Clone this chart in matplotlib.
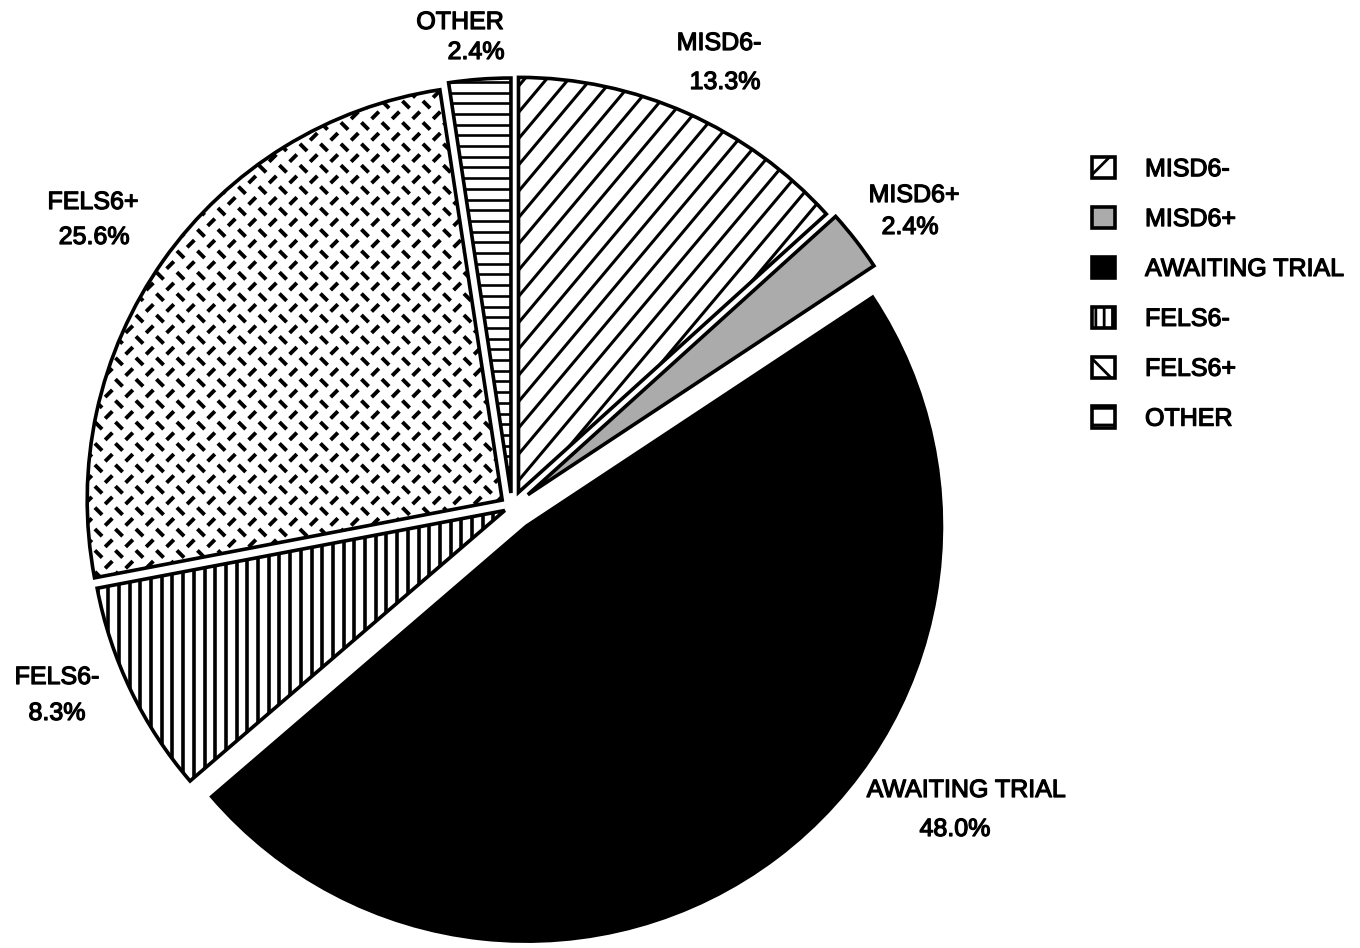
import numpy as np
import matplotlib.pyplot as plt
import matplotlib.patheffects as pe
from matplotlib.collections import LineCollection
from matplotlib.patches import Patch

plt.rcParams['font.family'] = ['Liberation Sans', 'DejaVu Sans']
plt.rcParams['hatch.linewidth'] = 2.0
plt.rcParams['hatch.color'] = 'black'

# data, clockwise from 12 o'clock
categories = ['MISD6-', 'MISD6+', 'AWAITING TRIAL', 'FELS6-', 'FELS6+', 'OTHER']
shares = [13.3, 2.4, 48.0, 8.3, 25.6, 2.4]
pct_labels = ['13.3%', '2.4%', '48.0%', '8.3%', '25.6%', '2.4%']

W, H = 1360, 948
fig = plt.figure(figsize=(W / 100, H / 100), dpi=100)
ax = fig.add_axes([0, 0, 1, 1])

R = 415
cx, cy = 512, H - 507
# explode is in data units here (axes units are pixels)
explode = [16, 20, 24, 8, 12, 14]
faces = ['white', '#ababab', 'black', 'white', 'white', 'white']

wedges, _ = ax.pie(shares, startangle=90, counterclock=False, radius=R,
                   center=(cx, cy), explode=explode, colors=faces,
                   wedgeprops=dict(edgecolor='black', linewidth=2.6))

ax.set_xlim(0, W)
ax.set_ylim(0, H)
ax.axis('off')


def line_hatch(wedge, angle, spacing, lw):
    a = np.deg2rad(angle)
    u = np.array([np.cos(a), np.sin(a)])
    n = np.array([-np.sin(a), np.cos(a)])
    L = R + 80
    segs = []
    for k in np.arange(-L, L, spacing):
        p = np.array([cx, cy]) + n * k
        segs.append([p - u * L, p + u * L])
    lc = LineCollection(segs, colors='black', linewidths=lw, zorder=3)
    ax.add_collection(lc)
    lc.set_clip_path(wedge)


def dash_hatch(wedge, dx, dy, half, lw):
    segs = []
    x0, x1 = cx - R - 60, cx + R + 60
    y0, y1 = cy - R - 60, cy + R + 60
    for i, y in enumerate(np.arange(y0, y1, dy)):
        if i % 2 == 0:
            for x in np.arange(x0, x1, dx):
                segs.append([(x - half, y + half), (x + half, y - half)])
        else:
            for x in np.arange(x0 + dx / 2, x1, dx):
                segs.append([(x - half, y - half), (x + half, y + half)])
    lc = LineCollection(segs, colors='black', linewidths=lw, zorder=3,
                        capstyle='butt')
    ax.add_collection(lc)
    lc.set_clip_path(wedge)


line_hatch(wedges[0], 50, 16.9, 2.2)          # MISD6-
line_hatch(wedges[3], 90, 10.7, 2.6)          # FELS6-
dash_hatch(wedges[4], 20.5, 10.7, 3.6, 2.8)   # FELS6+
line_hatch(wedges[5], 0, 10.7, 1.9)           # OTHER

bold_ish = [pe.withStroke(linewidth=0.9, foreground='black')]

# slice labels (name line, percent line), pixel positions of centres
name_pos = [(719, 43), (914, 195), (966, 790), (57, 677), (93, 202), (460, 22)]
pct_pos = [(725, 82), (910, 227), (955, 829), (57, 713), (94, 237), (476, 52)]
for name, pct, (nx, ny), (px, py) in zip(categories, pct_labels, name_pos, pct_pos):
    ax.text(nx, H - ny, name, ha='center', va='center', fontsize=18,
            path_effects=bold_ish)
    ax.text(px, H - py, pct, ha='center', va='center', fontsize=18,
            path_effects=bold_ish)

legend_hatch = ['/', None, None, '||', '\\', '-']
handles = [Patch(facecolor=f, edgecolor='black', linewidth=2.6, hatch=h)
           for f, h in zip(faces, legend_hatch)]
leg = ax.legend(handles, categories, loc='upper left',
                bbox_to_anchor=(1092 / W, 1 - 157 / H), bbox_transform=fig.transFigure,
                frameon=False, fontsize=18, handlelength=0.92, handleheight=0.92,
                handletextpad=1.2, labelspacing=1.03, borderpad=0, borderaxespad=0)
for t in leg.get_texts():
    t.set_path_effects(bold_ish)

fig.savefig('out.png', dpi=100, facecolor='white')
